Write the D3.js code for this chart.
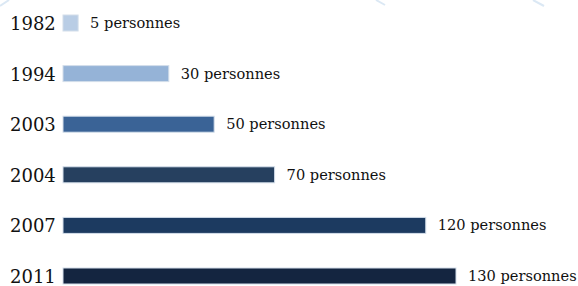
<!DOCTYPE html>
<html>
<head>
<meta charset="utf-8">
<script src="https://cdn.jsdelivr.net/npm/d3@7"></script>
<style>
  body { margin: 0; background: #fff; }
  svg { display: block; }
  .year { font-family: "DejaVu Serif", serif; font-size: 18px; fill: #111; }
  .lbl { font-family: "DejaVu Serif", serif; font-size: 14.6px; fill: #111; }
</style>
</head>
<body>
<div id="chart"></div>
<script>
// data
const years = ['1982', '1994', '2003', '2004', '2007', '2011'];
const values = [5, 35, 50, 70, 120, 130]; // bar lengths as drawn
const labels = ['5 personnes', '30 personnes', '50 personnes', '70 personnes', '120 personnes', '130 personnes'];
const colors = ['#b9cde5', '#95b3d7', '#3a6396', '#26405f', '#1c3a60', '#142540'];

const width = 578;
const height = 286;
const BAR_LEFT = 63;
const BAR_H = 16;

const rows = years.map((y, i) => ({ year: y, value: values[i], label: labels[i], color: colors[i] }));

const svg = d3.select('#chart').append('svg')
  .attr('width', width)
  .attr('height', height);

// faint decorative strokes along the top edge
const deco = svg.append('g').attr('stroke', '#dbe8f4').attr('stroke-width', 2);
deco.append('line').attr('x1', 0).attr('y1', 6).attr('x2', 9).attr('y2', 0);
deco.append('line').attr('x1', 376).attr('y1', 0).attr('x2', 385).attr('y2', 5);
deco.append('line').attr('x1', 533).attr('y1', 0).attr('x2', 544).attr('y2', 6);

const x = d3.scaleLinear()
  .domain([0, 130])
  .range([BAR_LEFT, BAR_LEFT + 393]);

const y = d3.scalePoint()
  .domain(years)
  .range([23, 276]);

const $rows = svg.selectAll('g.row')
  .data(rows)
  .join('g')
  .attr('class', 'row');

$rows.append('rect')
  .attr('x', x(0))
  .attr('y', d => y(d.year) - BAR_H / 2)
  .attr('width', d => x(d.value) - x(0))
  .attr('height', BAR_H)
  .attr('fill', d => d.color)
  .attr('stroke', '#d3deea')
  .attr('stroke-width', 1);

$rows.append('text')
  .attr('class', 'year')
  .attr('x', 10)
  .attr('y', d => y(d.year) + 7)
  .text(d => d.year);

$rows.append('text')
  .attr('class', 'lbl')
  .attr('x', d => x(d.value) + 12)
  .attr('y', d => y(d.year) + 5)
  .text(d => d.label);
</script>
</body>
</html>
